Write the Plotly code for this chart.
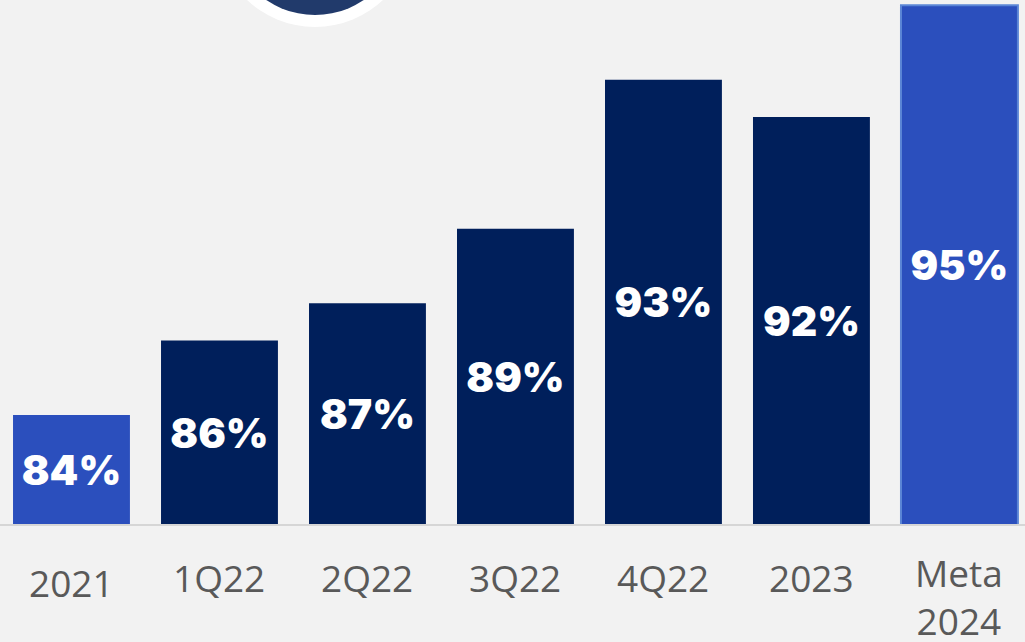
import plotly.graph_objects as go

# Period labels and satisfaction share (%)
categories = ["2021", "1Q22", "2Q22", "3Q22", "4Q22", "2023", "Meta<br>2024"]
values = [84, 86, 87, 89, 93, 92, 95]
value_labels = ["84%", "86%", "87%", "89%", "93%", "92%", "95%"]
highlight = [True, False, False, False, False, False, True]
label_offsets = [57, 52, 52, 52, 52, 52, 71]  # px below the baseline (label centre)

BLUE = "#2b4fbd"
NAVY = "#001f5b"
W, H = 1025, 642
PLOT_H = 525
Y_MIN, Y_MAX = 81.05, 95.14  # value axis window

x = list(range(len(categories)))
colors = [BLUE if h else NAVY for h in highlight]
line_w = [0, 0, 0, 0, 0, 0, 2]

# Bars start at the bottom of the visible window so labels sit mid-bar
fig = go.Figure(
    go.Bar(
        x=x,
        y=[v - Y_MIN for v in values],
        base=Y_MIN,
        width=0.79,
        marker=dict(color=colors, line=dict(color="#5b86d6", width=line_w)),
        text=value_labels,
        textposition="inside",
        insidetextanchor="middle",
        constraintext="none",
        textangle=0,
        textfont=dict(family="Inter", size=41, color="white", weight=900),
        hoverinfo="skip",
    )
)

# Category labels under the baseline
for xi, cat, off in zip(x, categories, label_offsets):
    fig.add_annotation(
        x=xi, xref="x",
        y=-off / PLOT_H, yref="paper",
        text=cat, showarrow=False,
        yanchor="middle", xanchor="center",
        font=dict(family="Open Sans", size=37, color="#595959"),
        align="center",
    )

# Baseline
fig.add_shape(type="line", xref="paper", yref="paper", x0=0, x1=1, y0=0, y1=0,
              line=dict(color="#d6d6d6", width=2), layer="above")

# Badge circle partially visible at the top
cx, cy = 315, -72
for r, col in [(99, "white"), (87, "#213a6b")]:
    fig.add_shape(
        type="circle", xref="paper", yref="paper",
        x0=(cx - r) / W, x1=(cx + r) / W,
        y0=1 + (-cy - r) / PLOT_H, y1=1 + (-cy + r) / PLOT_H,
        fillcolor=col, line=dict(width=0), layer="above",
    )

fig.update_layout(
    width=W, height=H,
    margin=dict(l=0, r=0, t=0, b=H - PLOT_H),
    paper_bgcolor="#f2f2f2",
    plot_bgcolor="#f2f2f2",
    showlegend=False,
    xaxis=dict(range=[-0.483, 6.443], showticklabels=False, showgrid=False,
               zeroline=False, showline=False, fixedrange=True),
    yaxis=dict(range=[Y_MIN, Y_MAX], showticklabels=False, showgrid=False,
               zeroline=False, showline=False, fixedrange=True),
)

fig.write_html("out.html")
